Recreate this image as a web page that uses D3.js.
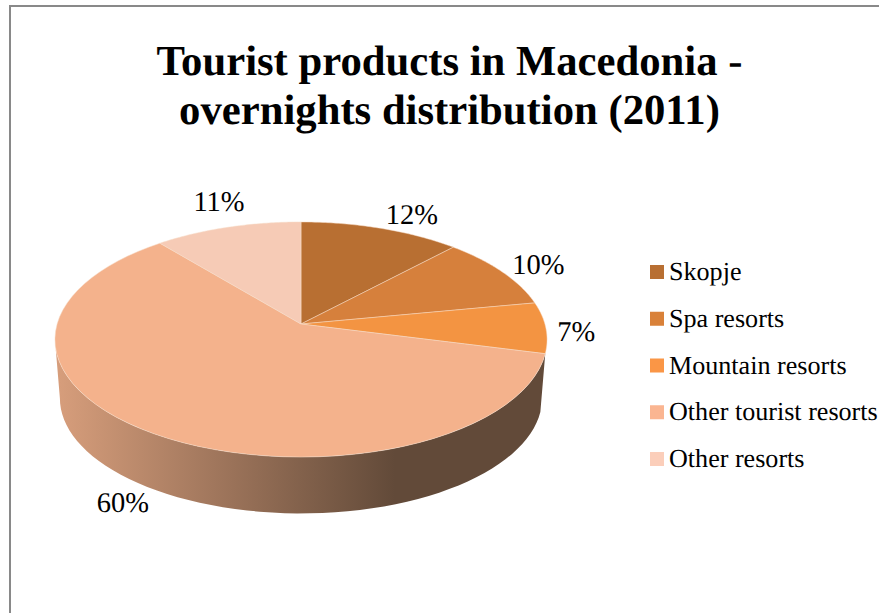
<!DOCTYPE html>
<html>
<head>
<meta charset="utf-8">
<script src="https://cdn.jsdelivr.net/npm/d3@7/dist/d3.min.js"></script>
<style>
  html, body { margin: 0; padding: 0; background: #fff; overflow: hidden; }
  svg { display: block; }
  text { font-family: "Liberation Serif", serif; fill: #000; text-rendering: geometricPrecision; }
</style>
</head>
<body>
<svg id="chart" width="879" height="613"></svg>
<script>
const categories = ["Skopje", "Spa resorts", "Mountain resorts", "Other tourist resorts", "Other resorts"];
const shares = [12, 10, 7, 60, 11];
const sliceColors = ["#b86f32", "#d6803c", "#f39442", "#f4b28c", "#f6cbb6"];
const legendColors = ["#b86f32", "#d98139", "#fa9646", "#fab591", "#fbceba"];
const titleLines = ["Tourist products in Macedonia -", "overnights distribution (2011)"];

const svg = d3.select("#chart");

// Chart frame: its right and bottom edges run past the page.
svg.append("rect")
  .attr("x", 10).attr("y", 6).attr("width", 900).attr("height", 640)
  .attr("fill", "#fff").attr("stroke", "#898989").attr("stroke-width", 2);

// Title
svg.append("g").selectAll("text").data(titleLines).join("text")
  .attr("x", 449.5)
  .attr("y", (d, i) => 75 + i * 49)
  .attr("text-anchor", "middle")
  .attr("font-size", 42.7)
  .attr("font-weight", "bold")
  .text(d => d);

// Tilted disc: a perspective projection of the unit circle, nearer edge larger.
const tilt = 0.132;
function projector(cy, rx, ry) {
  return (angle, r = 1) => {
    const u = r * Math.sin(angle), v = -r * Math.cos(angle), w = 1 - tilt * v;
    return [301 + rx * u / w, cy + ry * v / w];
  };
}
const topFace = projector(324, 243.9, 115.5);
const bottomFace = projector(383, 239, 113.2);

const arcs = d3.pie().sort(null).value(d => d)(shares);
const line = d3.line();
const sweep = (a, b) => d3.range(0, 61).map(i => a + (b - a) * i / 60);

// Side wall, shaded from the left rim into the dark right side.
const defs = svg.append("defs");
const wallGradient = defs.append("linearGradient")
  .attr("id", "wall").attr("gradientUnits", "userSpaceOnUse")
  .attr("x1", 60).attr("x2", 395).attr("y1", 0).attr("y2", 0);
wallGradient.append("stop").attr("offset", 0).attr("stop-color", "#d69d7b");
wallGradient.append("stop").attr("offset", 1).attr("stop-color", "#624a39");

// The wall runs from the 60% slice's right edge round to the leftmost rim point.
const wallStart = arcs[3].startAngle;
const wallEnd = 2 * Math.PI - Math.acos(-tilt);
const wallAngles = sweep(wallStart, wallEnd);
svg.append("path")
  .attr("d", line([...wallAngles.map(a => topFace(a)), ...wallAngles.slice().reverse().map(a => bottomFace(a))]) + "Z")
  .attr("fill", "url(#wall)");

// Top face slices
svg.append("g").selectAll("path").data(arcs).join("path")
  .attr("d", d => line([topFace(0, 0), ...sweep(d.startAngle, d.endAngle).map(a => topFace(a))]) + "Z")
  .attr("fill", (d, i) => sliceColors[i])
  .attr("stroke", "#f7dcc8")
  .attr("stroke-width", 0.5);

// Percentage labels, set off from the rim point at the middle of each slice.
const labelNudge = [[31, -14], [36.5, -7], [30.5, 3.5], [-31, 69], [-8.5, -26]];
svg.append("g").selectAll("text").data(arcs).join("text")
  .attr("x", (d, i) => topFace((d.startAngle + d.endAngle) / 2)[0] + labelNudge[i][0])
  .attr("y", (d, i) => topFace((d.startAngle + d.endAngle) / 2)[1] + labelNudge[i][1] + 9.5)
  .attr("text-anchor", "middle")
  .attr("font-size", 28.5)
  .text(d => d.value + "%");

// Legend
const legendY = d3.scalePoint().domain(categories).range([272, 459]);
const legend = svg.append("g").selectAll("g").data(categories).join("g")
  .attr("transform", d => `translate(0,${legendY(d)})`);
legend.append("rect")
  .attr("x", 650).attr("y", -7).attr("width", 14).attr("height", 14)
  .attr("fill", (d, i) => legendColors[i]);
legend.append("text")
  .attr("x", 669).attr("y", 8)
  .attr("font-size", 26.1)
  .text(d => d);
</script>
</body>
</html>
